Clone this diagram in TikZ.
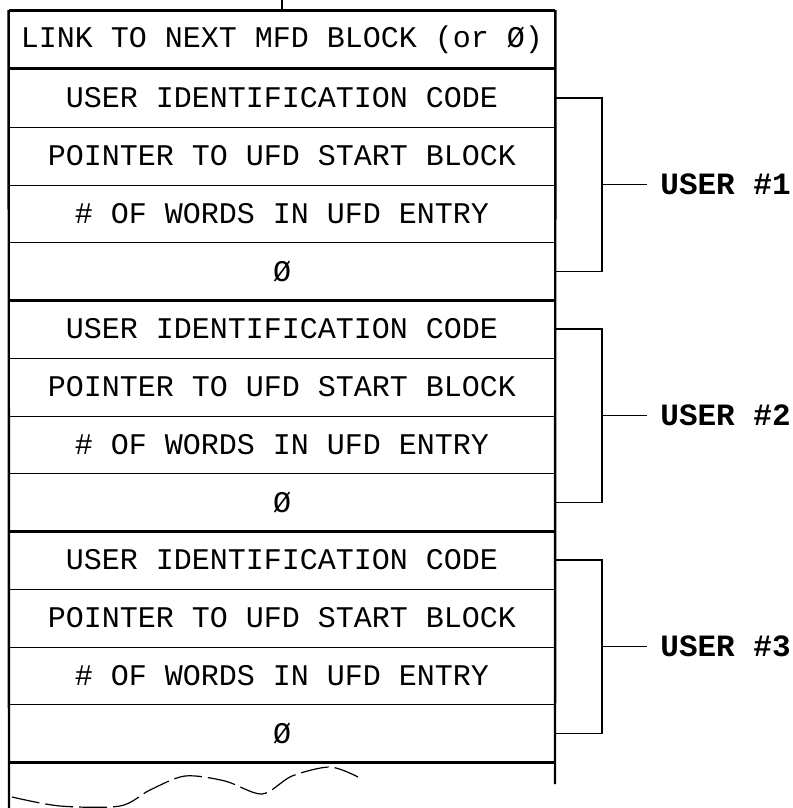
\documentclass[tikz,border=0pt]{standalone}
\usepackage{fontspec}
\setmainfont{Liberation Mono}
\begin{document}
\begin{tikzpicture}[x=0.5pt, y=-0.5pt,
    row/.style={minimum width=273pt, minimum height=28.875pt, inner sep=0pt,
        font=\fontsize{15}{18}\selectfont},
    divider/.style={line width=0.5pt},
    groupline/.style={line width=1.5pt},
    bracket/.style={line width=0.6pt},
    userlabel/.style={anchor=west, inner sep=0pt,
        font=\fontsize{15.5}{18}\selectfont\bfseries}]
\useasboundingbox (0,0) rectangle (792,808);

\node(link)[row] at (282, 39.5) {LINK TO NEXT MFD BLOCK (or Ø)};

\node(id1)[row] at (282, 98) {USER IDENTIFICATION CODE};
\node(ptr1)[row] at (282, 155.75) {POINTER TO UFD START BLOCK};
\node(num1)[row] at (282, 213.5) {\# OF WORDS IN UFD ENTRY};
\node(zero1)[row] at (282, 271.25) {Ø};

\node(id2)[row] at (282, 329) {USER IDENTIFICATION CODE};
\node(ptr2)[row] at (282, 386.75) {POINTER TO UFD START BLOCK};
\node(num2)[row] at (282, 444.5) {\# OF WORDS IN UFD ENTRY};
\node(zero2)[row] at (282, 502.25) {Ø};

\node(id3)[row] at (282, 560) {USER IDENTIFICATION CODE};
\node(ptr3)[row] at (282, 617.75) {POINTER TO UFD START BLOCK};
\node(num3)[row] at (282, 675.5) {\# OF WORDS IN UFD ENTRY};
\node(zero3)[row] at (282, 733.25) {Ø};

% thin lines between the words of one user
\draw[divider] (id1.south west) -- (id1.south east);
\draw[divider] (ptr1.south west) -- (ptr1.south east);
\draw[divider] (num1.south west) -- (num1.south east);
\draw[divider] (id2.south west) -- (id2.south east);
\draw[divider] (ptr2.south west) -- (ptr2.south east);
\draw[divider] (num2.south west) -- (num2.south east);
\draw[divider] (id3.south west) -- (id3.south east);
\draw[divider] (ptr3.south west) -- (ptr3.south east);
\draw[divider] (num3.south west) -- (num3.south east);

% heavy lines between entries
\draw[groupline] (link.north west) -- (link.north east);
\draw[groupline] (link.south west) -- (link.south east);
\draw[groupline] (zero1.south west) -- (zero1.south east);
\draw[groupline] (zero2.south west) -- (zero2.south east);
\draw[groupline] (zero3.south west) -- (zero3.south east);

% open sides of the block
\coordinate(leftend) at (9, 808);
\coordinate(rightend) at (555, 784);
\draw[line width=1.2pt] (link.north west) -- (leftend);
\draw[line width=1.2pt] (link.north east) -- (rightend);

\coordinate(linkin) at (282, 0);
\draw[line width=0.8pt] (linkin) -- (link.north);

% torn edge
\draw[line width=0.6pt, dash pattern=on 14pt off 3pt]
    plot[smooth] coordinates {(12,797) (60,806) (120,806) (150,790)
    (185,776) (225,781) (262,794) (292,776) (330,767) (358,777)};

% user brackets
\coordinate(b1) at (602, 184.5);
\coordinate(b2) at (602, 415.5);
\coordinate(b3) at (602, 646.5);
\node(user1)[userlabel] at (660, 184.5) {USER \#1};
\node(user2)[userlabel] at (660, 415.5) {USER \#2};
\node(user3)[userlabel] at (660, 646.5) {USER \#3};
\coordinate(t1) at (647, 184.5);
\coordinate(t2) at (647, 415.5);
\coordinate(t3) at (647, 646.5);

\draw[bracket] (id1.east) -| (b1) |- (zero1.east);
\draw[bracket] (id2.east) -| (b2) |- (zero2.east);
\draw[bracket] (id3.east) -| (b3) |- (zero3.east);
\draw[bracket] (b1) -- (t1);
\draw[bracket] (b2) -- (t2);
\draw[bracket] (b3) -- (t3);
\end{tikzpicture}
\end{document}
